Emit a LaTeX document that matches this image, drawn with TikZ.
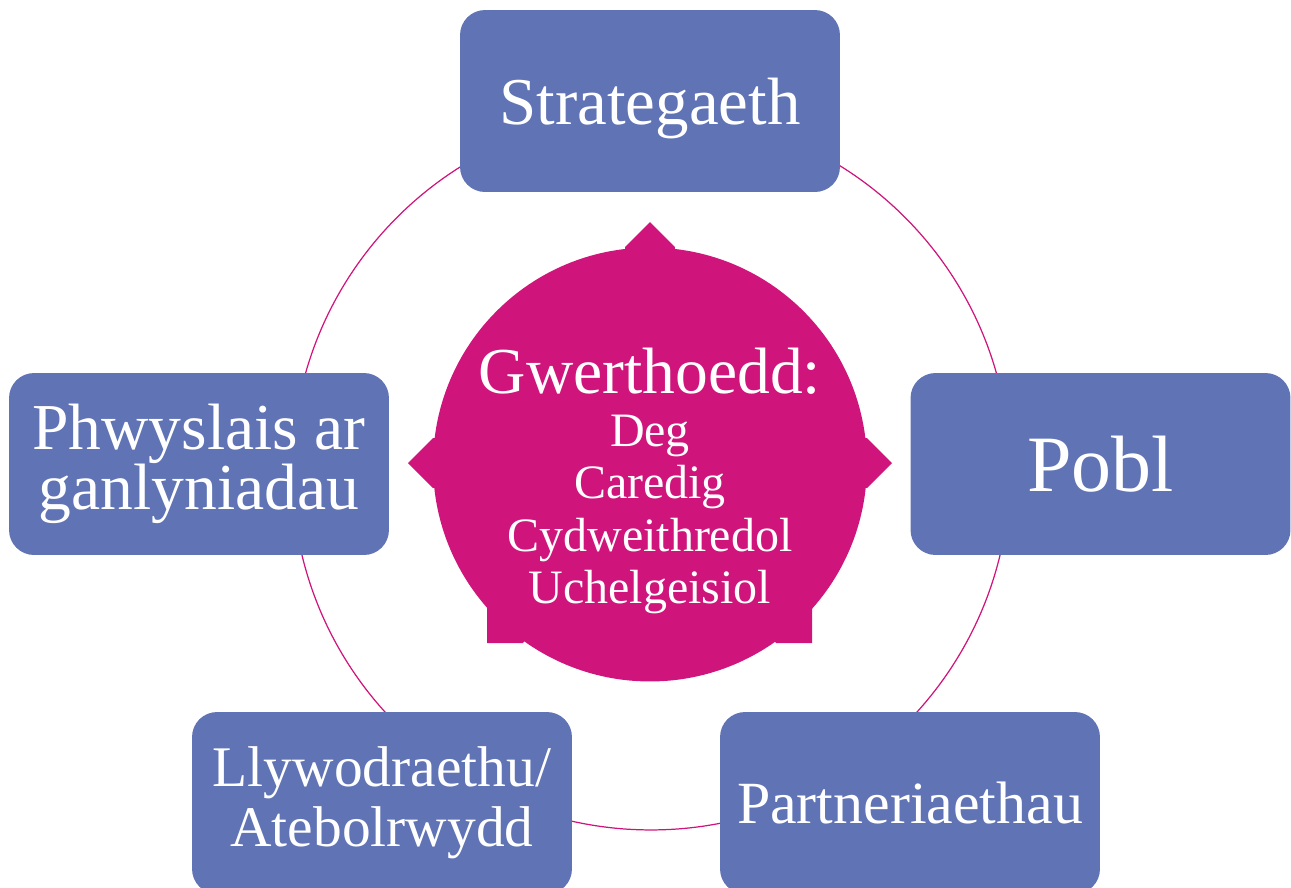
\documentclass[tikz,border=0pt]{standalone}
\usepackage{fontspec}
\setmainfont{Liberation Serif}
\usepackage{xcolor}
\usepackage{tikz}

\definecolor{boxblue}{RGB}{95,115,181}
\definecolor{valpink}{RGB}{207,21,123}

\begin{document}
\begin{tikzpicture}[x=0.02cm,y=-0.02cm,
  box/.style={rectangle,rounded corners=0.5cm,fill=boxblue,text=white,
    minimum width=7.6cm,minimum height=3.64cm,align=center,inner sep=0pt},
  ring/.style={draw=valpink,line width=0.7pt},
  spike/.style={fill=valpink}]
\clip (0,0) rectangle (1291,887);

% cycle ring behind the boxes
\draw[ring] (651,471) circle[radius=7.18cm];

% values in the middle
\node[circle,fill=valpink,minimum size=8.68cm,inner sep=0pt] (val) at (650,464.5) {};
\fill[spike] (650,222) -- (625,247) -- (val.center) -- (675,247) -- cycle;
\fill[spike] (408,463) -- (433,438) -- (val.center) -- (433,488) -- cycle;
\fill[spike] (892,463) -- (867,438) -- (val.center) -- (867,488) -- cycle;
\fill[spike] (487,643) -- (487,607) -- (val.center) -- (523,643) -- cycle;
\fill[spike] (812,643) -- (812,607) -- (val.center) -- (776,643) -- cycle;
\node[text=white,align=center,inner sep=0pt,font=\fontsize{27.3}{29.9}\selectfont] (vals) at (650,481)
  {{\fontsize{37.3}{29.9}\selectfont Gwerthoedd:}\\ Deg\\ Caredig\\ Cydweithredol\\ Uchelgeisiol};

% the five boxes
\node[box,font=\fontsize{38.1}{34.1}\selectfont,text depth=0pt] (strat) at (650,101) {Strategaeth};
\node[box,font=\fontsize{45.5}{34.1}\selectfont,text depth=0pt] (pobl) at (1100.5,464) {Pobl};
\node[box,font=\fontsize{34.1}{34.1}\selectfont,text depth=0pt] (partner) at (910,803) {Partneriaethau};
\node[box,font=\fontsize{32.7}{34.1}\selectfont] (llyw) at (382,803) {Llywodraethu/\\ Atebolrwydd};
\node[box,font=\fontsize{37.3}{34.1}\selectfont] (pwys) at (199,464) {Phwyslais ar\\ ganlyniadau};
\end{tikzpicture}
\end{document}
